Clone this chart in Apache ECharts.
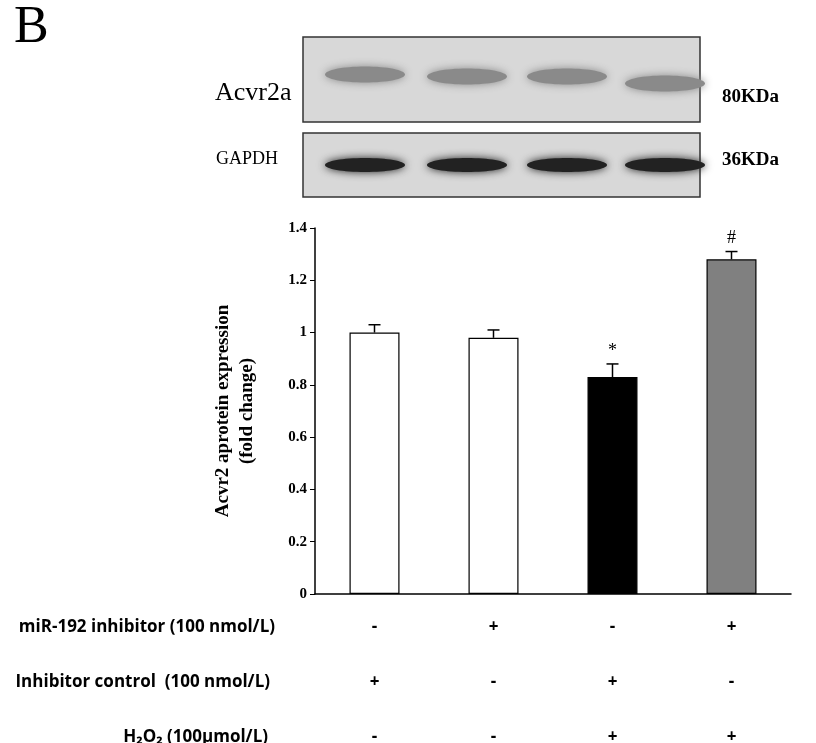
<!DOCTYPE html>
<html><head><meta charset="utf-8">
<script src="https://cdn.jsdelivr.net/npm/echarts@6/dist/echarts.min.js"></script>
<style>html,body{margin:0;padding:0;background:#fff}#c{width:816px;height:743px}</style>
</head><body><div id="c"></div>
<script>
const categories = ['G1','G2','G3','G4'];
const values = [1.0, 0.98, 0.83, 1.28];
const errors = [0.03, 0.03, 0.05, 0.03];
const marks = ['', '', '*', '#'];
const colors = ['#ffffff','#ffffff','#000000','#808080'];
const yTicks = [0,0.2,0.4,0.6,0.8,1,1.2,1.4];
const rowLabels = ['miR-192 inhibitor (100 nmol/L)','Inhibitor control  (100 nmol/L)','H\u2082O\u2082 (100\u03bcmol/L)'];
const rowSigns = [['-','+','-','+'],['+','-','+','-'],['-','-','+','+']];

const chart = echarts.init(document.getElementById('c'));
const serif = 'Liberation Serif';
chart.setOption({
  animation:false,
  grid:{left:315,right:25,top:228,bottom:149},
  xAxis:{type:'category',data:categories,axisLabel:{show:false},axisTick:{show:false},
    axisLine:{lineStyle:{color:'#000',width:1.5}}},
  yAxis:{type:'value',min:0,max:1.4,interval:0.2,splitLine:{show:false},
    axisLine:{show:true,lineStyle:{color:'#000',width:1.5}},
    axisTick:{show:true,inside:false,length:5,lineStyle:{color:'#000'}},
    axisLabel:{fontFamily:serif,fontWeight:'bold',fontSize:15,color:'#000',
      formatter:v=>String(+v.toFixed(1))},
    name:'Acvr2 aprotein expression\n(fold change)',nameLocation:'middle',nameGap:56,nameRotate:90,
    nameTextStyle:{fontFamily:serif,fontWeight:'bold',fontSize:19,color:'#000',lineHeight:24}},
  series:[
    {type:'bar',barWidth:50,data:values.map((v,i)=>({value:v,itemStyle:{color:colors[i],borderColor:'#000',borderWidth:1.2}}))},
    {type:'custom',data:values.map((v,i)=>[i,v,errors[i],marks[i]]),z:5,
      renderItem:(p,api)=>{
        const x=api.value(0),v=api.value(1),e=api.value(2);
        const b=api.coord([x,v]),t=api.coord([x,v+e]);
        const m=api.value(3);
        const ch=[
          {type:'line',shape:{x1:b[0],y1:b[1],x2:t[0],y2:t[1]},style:{stroke:'#000',lineWidth:1.5}},
          {type:'line',shape:{x1:t[0]-6,y1:t[1],x2:t[0]+6,y2:t[1]},style:{stroke:'#000',lineWidth:1.5}}];
        if(m) ch.push({type:'text',style:{text:m,x:t[0],y:t[1]-4,align:'center',verticalAlign:'bottom',
          font:'18px '+serif,fill:'#000'}});
        return {type:'group',children:ch};
      }}
  ]
});

const g=[];
g.push({type:'text',left:14,top:2,style:{text:'B',font:'52px '+serif,fill:'#000'}});
function blot(y,h,bandColor,bh,offs){
  g.push({type:'rect',shape:{x:303,y:y,width:397,height:h},style:{fill:'#d8d8d8',stroke:'#333',lineWidth:1.5}});
  const lanes=[365,467,567,665];
  lanes.forEach((lx,i)=>g.push({type:'ellipse',shape:{cx:lx,cy:y+h/2+offs[i],rx:40,ry:bh},
    style:{fill:bandColor,shadowBlur:8,shadowColor:bandColor}}));
}
blot(37,85,'#8a8a8a',8,[-5,-3,-3,4]);
blot(133,64,'#222',7,[0,0,0,0]);
g.push({type:'text',left:215,top:80,style:{text:'Acvr2a',font:'26px '+serif,fill:'#000'}});
g.push({type:'text',left:216,top:150,style:{text:'GAPDH',font:'18px '+serif,fill:'#000'}});
g.push({type:'text',left:722,top:88,style:{text:'80KDa',font:'bold 19px '+serif,fill:'#000'}});
g.push({type:'text',left:722,top:151,style:{text:'36KDa',font:'bold 19px '+serif,fill:'#000'}});
const rowY=[627,682,737];
rowLabels.forEach((l,r)=>{
  g.push({type:'text',x:[275,270,268][r],y:rowY[r],style:{text:l,align:'right',verticalAlign:'middle',
    font:'bold 17px "Open Sans"',fill:'#000'}});
  rowSigns[r].forEach((s,i)=>{
    const px=chart.convertToPixel({xAxisIndex:0},categories[i]);
    g.push({type:'text',x:px,y:rowY[r],style:{text:s,align:'center',verticalAlign:'middle',
      font:'bold 17px "Open Sans"',fill:'#000'}});
  });
});
chart.setOption({graphic:g});
</script></body></html>
